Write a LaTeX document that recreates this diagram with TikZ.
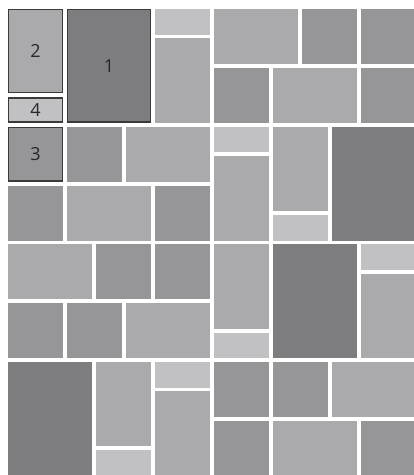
\documentclass[tikz,border=0pt]{standalone}
\usepackage{fontspec}
\setmainfont{Open Sans}
\definecolor{tdark}{RGB}{125,125,127}
\definecolor{tgrey}{RGB}{150,150,152}
\definecolor{tmid}{RGB}{170,170,172}
\definecolor{tpale}{RGB}{193,193,195}
\definecolor{tline}{RGB}{58,58,58}
\definecolor{tlab}{RGB}{40,40,40}
\tikzset{
  td/.style ={fill=tdark},
  tg/.style ={fill=tgrey},
  tm/.style ={fill=tmid},
  tp/.style ={fill=tpale},
  tb/.style ={draw=tline, line width=0.7pt},
  lab/.style={font=\fontsize{8.7}{10}\selectfont, text=tlab, inner sep=1pt},
}
\begin{document}
\begin{tikzpicture}[x=0.5cm,y=-0.5cm]
  \clip (-0.272,-0.306) rectangle (13.80,15.84);
  \fill[white] (-0.272,-0.306) rectangle (13.80,15.84);
  \fill[tm] (0,0) rectangle (1.87,2.87);
  \draw[tb] (0.025,0.025) rectangle (1.845,2.845);
  \node[lab] (two) at (0.935,1.435) {2};
  \fill[tp] (0,3) rectangle (1.87,3.87);
  \draw[tb] (0.025,3.025) rectangle (1.845,3.845);
  \node[lab] (four) at (0.935,3.435) {4};
  \fill[td] (2,0) rectangle (4.87,3.87);
  \draw[tb] (2.025,0.025) rectangle (4.845,3.845);
  \node[lab] (one) at (3.435,1.935) {1};
  \fill[tp] (5,0) rectangle (6.87,0.87);
  \fill[tm] (5,1) rectangle (6.87,3.87);
  \fill[tg] (0,4) rectangle (1.87,5.87);
  \draw[tb] (0.025,4.025) rectangle (1.845,5.845);
  \node[lab] (three) at (0.935,4.935) {3};
  \fill[tg] (2,4) rectangle (3.87,5.87);
  \fill[tm] (4,4) rectangle (6.87,5.87);
  \fill[tg] (0,6) rectangle (1.87,7.87);
  \fill[tm] (2,6) rectangle (4.87,7.87);
  \fill[tg] (5,6) rectangle (6.87,7.87);
  \fill[tm] (7,0) rectangle (9.87,1.87);
  \fill[tg] (10,0) rectangle (11.87,1.87);
  \fill[tg] (12,0) rectangle (13.87,1.87);
  \fill[tg] (7,2) rectangle (8.87,3.87);
  \fill[tm] (9,2) rectangle (11.87,3.87);
  \fill[tg] (12,2) rectangle (13.87,3.87);
  \fill[tp] (7,4) rectangle (8.87,4.87);
  \fill[tm] (7,5) rectangle (8.87,7.87);
  \fill[tm] (9,4) rectangle (10.87,6.87);
  \fill[tp] (9,7) rectangle (10.87,7.87);
  \fill[td] (11,4) rectangle (13.87,7.87);
  \fill[tm] (0,8) rectangle (2.87,9.87);
  \fill[tg] (3,8) rectangle (4.87,9.87);
  \fill[tg] (5,8) rectangle (6.87,9.87);
  \fill[tg] (0,10) rectangle (1.87,11.87);
  \fill[tg] (2,10) rectangle (3.87,11.87);
  \fill[tm] (4,10) rectangle (6.87,11.87);
  \fill[td] (0,12) rectangle (2.87,15.87);
  \fill[tm] (3,12) rectangle (4.87,14.87);
  \fill[tp] (3,15) rectangle (4.87,15.87);
  \fill[tp] (5,12) rectangle (6.87,12.87);
  \fill[tm] (5,13) rectangle (6.87,15.87);
  \fill[tm] (7,8) rectangle (8.87,10.87);
  \fill[tp] (7,11) rectangle (8.87,11.87);
  \fill[td] (9,8) rectangle (11.87,11.87);
  \fill[tp] (12,8) rectangle (13.87,8.87);
  \fill[tm] (12,9) rectangle (13.87,11.87);
  \fill[tg] (7,12) rectangle (8.87,13.87);
  \fill[tg] (9,12) rectangle (10.87,13.87);
  \fill[tm] (11,12) rectangle (13.87,13.87);
  \fill[tg] (7,14) rectangle (8.87,15.87);
  \fill[tm] (9,14) rectangle (11.87,15.87);
  \fill[tg] (12,14) rectangle (13.87,15.87);
\end{tikzpicture}
\end{document}
